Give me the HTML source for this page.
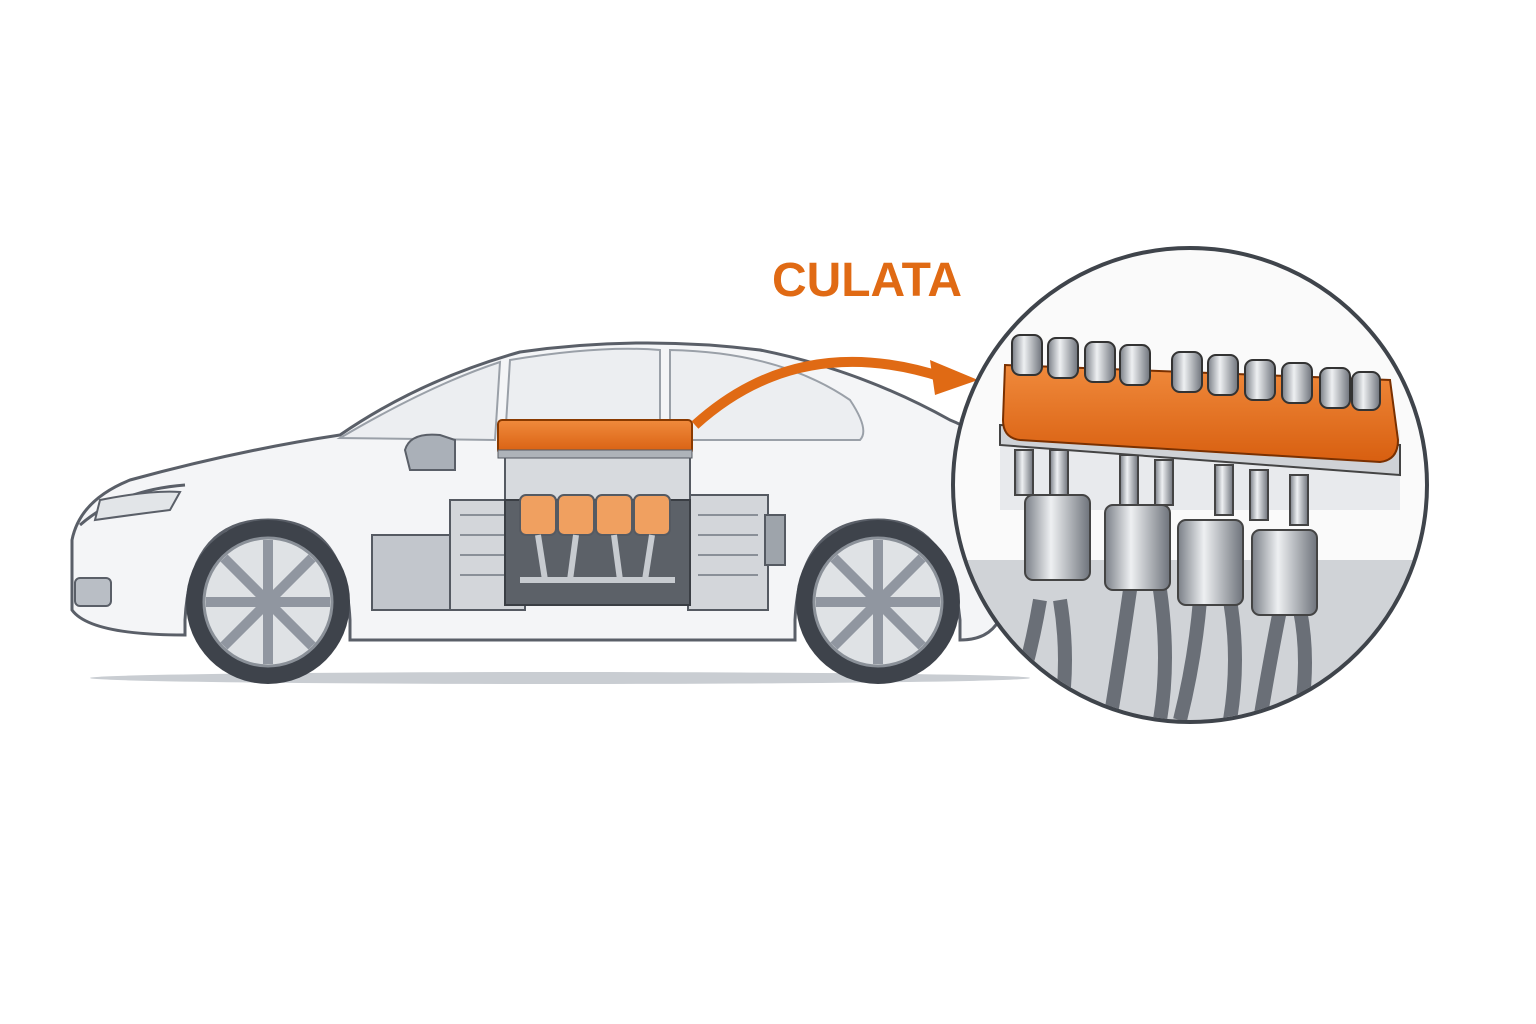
<!DOCTYPE html>
<html><head><meta charset="utf-8"><style>
html,body{margin:0;padding:0;background:#fff;width:1536px;height:1024px;overflow:hidden}
</style></head><body>
<svg width="1536" height="1024" viewBox="0 0 1536 1024" xmlns="http://www.w3.org/2000/svg">
<defs>
<linearGradient id="metal" x1="0" y1="0" x2="1" y2="0">
<stop offset="0" stop-color="#7a7f87"/><stop offset="0.4" stop-color="#eef0f2"/><stop offset="1" stop-color="#6e737b"/></linearGradient>
<linearGradient id="orng" x1="0" y1="0" x2="0" y2="1">
<stop offset="0" stop-color="#f08a3c"/><stop offset="1" stop-color="#d85f10"/></linearGradient>
<clipPath id="cc"><circle cx="1190" cy="485" r="235"/></clipPath>
</defs>
<ellipse cx="560" cy="678" rx="470" ry="6" fill="#c9cdd2"/>
<path d="M72,610 L72,540 Q80,500 130,480 Q240,450 340,435 Q420,380 520,352 Q640,335 760,350 Q860,370 950,420 Q1000,440 1005,480 L1005,600 Q1000,640 960,640 L960,620 Q950,520 878,520 Q800,520 795,620 L795,640 L350,640 L350,620 Q345,520 268,520 Q190,520 185,620 L185,635 Q90,635 72,610 Z" fill="#f4f5f7" stroke="#5a5f68" stroke-width="3"/>
<path d="M340,438 Q430,385 500,362 L495,440 Z" fill="#eceef1" stroke="#9aa0a8" stroke-width="2"/>
<path d="M510,360 Q600,345 660,350 L660,440 L505,440 Z" fill="#eceef1" stroke="#9aa0a8" stroke-width="2"/>
<path d="M670,350 Q780,352 850,400 Q870,430 860,440 L670,440 Z" fill="#eceef1" stroke="#9aa0a8" stroke-width="2"/>
<path d="M80,525 Q120,490 185,485" fill="none" stroke="#5a5f68" stroke-width="3"/>
<rect x="75" y="578" width="36" height="28" rx="5" fill="#b9bec5" stroke="#5a5f68" stroke-width="2"/>
<path d="M100,500 Q150,490 180,492 L170,510 Q130,515 95,520 Z" fill="#e2e5e8" stroke="#5a5f68" stroke-width="2"/>
<path d="M405,450 Q410,432 440,435 L455,440 L455,470 L410,470 Z" fill="#aab0b8" stroke="#5a5f68" stroke-width="2"/>
<g>
<circle cx="268" cy="602" r="82" fill="#3e434b"/><circle cx="268" cy="602" r="64" fill="#dfe2e5" stroke="#8a9098" stroke-width="3"/>
<circle cx="268" cy="602" r="12" fill="#8a9098"/>
<circle cx="878" cy="602" r="82" fill="#3e434b"/><circle cx="878" cy="602" r="64" fill="#dfe2e5" stroke="#8a9098" stroke-width="3"/>
<circle cx="878" cy="602" r="12" fill="#8a9098"/>
<g stroke="#9096a0" stroke-width="10">
<path d="M268,540 V664 M206,602 H330 M224,558 L312,646 M312,558 L224,646"/>
<path d="M878,540 V664 M816,602 H940 M834,558 L922,646 M922,558 L834,646"/>
</g></g>
<rect x="372" y="535" width="80" height="75" fill="#c2c6cc" stroke="#555a62" stroke-width="2"/>
<rect x="450" y="500" width="75" height="110" fill="#d3d6da" stroke="#555a62" stroke-width="2"/>
<rect x="688" y="495" width="80" height="115" fill="#d3d6da" stroke="#555a62" stroke-width="2"/>
<rect x="765" y="515" width="20" height="50" fill="#9ea4ab" stroke="#555a62" stroke-width="2"/>
<g stroke="#8a9098" stroke-width="2"><path d="M460,515 H515 M460,535 H515 M460,555 H515 M460,575 H515 M698,515 H758 M698,535 H758 M698,555 H758 M698,575 H758"/></g>
<rect x="505" y="455" width="185" height="50" fill="#d7dade" stroke="#555a62" stroke-width="2"/>
<path d="M505,500 L690,500 L690,605 L505,605 Z" fill="#5c6168" stroke="#3a3e44" stroke-width="2"/>
<g fill="#f0a060" stroke="#555a62" stroke-width="2">
<rect x="520" y="495" width="36" height="40" rx="6"/><rect x="558" y="495" width="36" height="40" rx="6"/>
<rect x="596" y="495" width="36" height="40" rx="6"/><rect x="634" y="495" width="36" height="40" rx="6"/></g>
<g stroke="#c7cbd0" stroke-width="6" fill="none"><path d="M538,535 L545,580 M576,535 L570,580 M614,535 L620,580 M652,535 L645,580 M520,580 H675"/></g>
<rect x="498" y="420" width="194" height="34" rx="4" fill="url(#orng)" stroke="#8a3a00" stroke-width="2"/>
<rect x="498" y="450" width="194" height="8" fill="#aeb3b9" stroke="#555a62" stroke-width="1"/>
<path d="M695,425 Q800,330 945,378" fill="none" stroke="#e06a14" stroke-width="10"/>
<polygon points="930,360 978,380 935,395" fill="#e06a14"/>
<text x="772" y="296" font-family="Liberation Sans, sans-serif" font-weight="bold" font-size="48" fill="#e06a14" textLength="190" lengthAdjust="spacingAndGlyphs">CULATA</text>
<circle cx="1190" cy="485" r="237" fill="#fafafa"/>
<g clip-path="url(#cc)">
<rect x="950" y="560" width="480" height="170" fill="#d0d3d7"/>
<g stroke="#6a6f77" stroke-width="14" fill="none">
<path d="M1040,600 Q1030,660 1010,720 M1060,600 Q1070,660 1060,720 M1130,590 Q1120,660 1110,720 M1160,590 Q1170,660 1160,720 M1200,600 Q1195,660 1180,720 M1230,600 Q1240,660 1230,720 M1280,610 Q1270,660 1260,720 M1300,610 Q1310,660 1300,720"/>
</g>
<rect x="1000" y="430" width="400" height="80" fill="#e8eaed"/>
<g fill="url(#metal)" stroke="#444" stroke-width="2">
<rect x="1025" y="495" width="65" height="85" rx="8"/><rect x="1105" y="505" width="65" height="85" rx="8"/>
<rect x="1178" y="520" width="65" height="85" rx="8"/><rect x="1252" y="530" width="65" height="85" rx="8"/>
<rect x="1015" y="450" width="18" height="45"/><rect x="1050" y="450" width="18" height="45"/><rect x="1120" y="455" width="18" height="50"/><rect x="1155" y="460" width="18" height="45"/><rect x="1215" y="465" width="18" height="50"/><rect x="1250" y="470" width="18" height="50"/><rect x="1290" y="475" width="18" height="50"/>
</g>
<polygon points="1000,425 1400,445 1400,475 1000,445" fill="#cfd2d6" stroke="#444" stroke-width="2"/>
<path d="M1005,365 L1390,380 L1398,440 Q1398,460 1380,462 L1020,440 Q1003,438 1003,420 Z" fill="url(#orng)" stroke="#7a3000" stroke-width="2"/>
<g fill="url(#metal)" stroke="#333" stroke-width="2">
<rect x="1012" y="335" width="30" height="40" rx="8"/><rect x="1048" y="338" width="30" height="40" rx="8"/><rect x="1085" y="342" width="30" height="40" rx="8"/><rect x="1120" y="345" width="30" height="40" rx="8"/>
<rect x="1172" y="352" width="30" height="40" rx="8"/><rect x="1208" y="355" width="30" height="40" rx="8"/><rect x="1245" y="360" width="30" height="40" rx="8"/><rect x="1282" y="363" width="30" height="40" rx="8"/><rect x="1320" y="368" width="30" height="40" rx="8"/><rect x="1352" y="372" width="28" height="38" rx="8"/>
</g>
</g>
<circle cx="1190" cy="485" r="237" fill="none" stroke="#3f444b" stroke-width="4"/>
</svg>
</body></html>
